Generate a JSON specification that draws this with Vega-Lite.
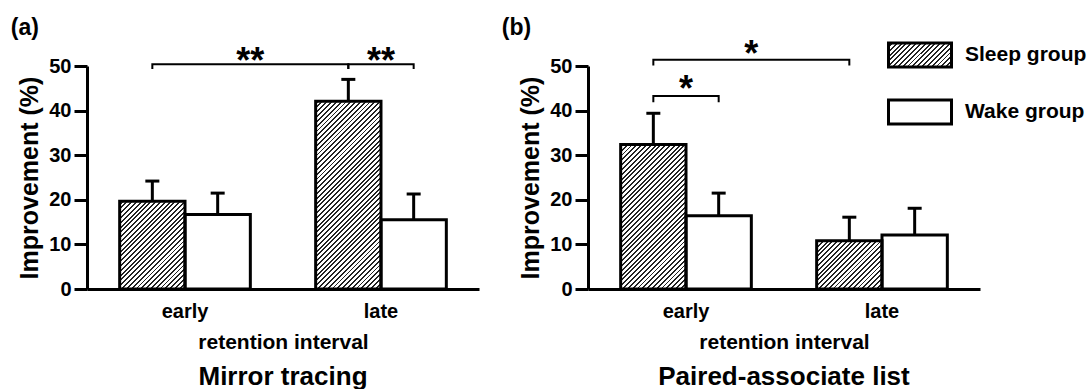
{
  "$schema": "https://vega.github.io/schema/vega-lite/v6.json",
  "background": "white",
  "padding": {"left": 10, "top": 17, "right": 0, "bottom": 0},
  "spacing": 22,
  "datasets": {
    "barsA": [
      {"interval": "early", "group": "Sleep group", "value": 19.7, "upper": 24.2},
      {"interval": "early", "group": "Wake group", "value": 16.7, "upper": 21.5},
      {"interval": "late", "group": "Sleep group", "value": 42.1, "upper": 47.0},
      {"interval": "late", "group": "Wake group", "value": 15.5, "upper": 21.3}
    ],
    "barsB": [
      {"interval": "early", "group": "Sleep group", "value": 32.4, "upper": 39.4},
      {"interval": "early", "group": "Wake group", "value": 16.4, "upper": 21.5},
      {"interval": "late", "group": "Sleep group", "value": 10.8, "upper": 16.1},
      {"interval": "late", "group": "Wake group", "value": 12.1, "upper": 18.1}
    ],
    "bracketsA": [
      {"b": 1, "o": 0, "interval": "early", "group": "Sleep group", "v": 49.3},
      {"b": 1, "o": 1, "interval": "early", "group": "Sleep group", "v": 50.4},
      {"b": 1, "o": 2, "interval": "late", "group": "Sleep group", "v": 50.4},
      {"b": 1, "o": 3, "interval": "late", "group": "Sleep group", "v": 49.3},
      {"b": 2, "o": 0, "interval": "late", "group": "Sleep group", "v": 49.3},
      {"b": 2, "o": 1, "interval": "late", "group": "Sleep group", "v": 50.4},
      {"b": 2, "o": 2, "interval": "late", "group": "Wake group", "v": 50.4},
      {"b": 2, "o": 3, "interval": "late", "group": "Wake group", "v": 49.3}
    ],
    "bracketsB": [
      {"b": 1, "o": 0, "interval": "early", "group": "Sleep group", "v": 50.1},
      {"b": 1, "o": 1, "interval": "early", "group": "Sleep group", "v": 51.4},
      {"b": 1, "o": 2, "interval": "late", "group": "Sleep group", "v": 51.4},
      {"b": 1, "o": 3, "interval": "late", "group": "Sleep group", "v": 50.1},
      {"b": 2, "o": 0, "interval": "early", "group": "Sleep group", "v": 41.9},
      {"b": 2, "o": 1, "interval": "early", "group": "Sleep group", "v": 43.3},
      {"b": 2, "o": 2, "interval": "early", "group": "Wake group", "v": 43.3},
      {"b": 2, "o": 3, "interval": "early", "group": "Wake group", "v": 41.9}
    ],
    "starsA": [
      {"interval": "early", "at": "end", "sy": 48.4, "label": "**"},
      {"interval": "late", "at": "mid", "sy": 48.4, "label": "**"}
    ],
    "starsB": [
      {"interval": "early", "at": "end", "sy": 49.9, "label": "*"},
      {"interval": "early", "at": "mid", "sy": 42.2, "label": "*"}
    ]
  },
  "hconcat": [
    {
      "title": {"text": "(a)", "anchor": "start", "frame": "bounds", "orient": "top", "fontSize": 23, "offset": 4, "dx": -7},
      "vconcat": [
        {
          "width": 392,
          "height": 223,
          "title": {"text": "Mirror tracing", "orient": "bottom", "frame": "group", "anchor": "middle", "fontSize": 26, "offset": 12},
          "layer": [
            {
              "data": {"name": "barsA"},
              "transform": [{"filter": "datum.group === 'Sleep group'"}],
              "mark": {"type": "bar", "strokeWidth": 0, "fill": {"gradient": "linear", "x1": 0, "y1": 0, "x2": 0.3489, "y2": 1.1908, "stops": [
{"offset":0,"color":"#fff"},{"offset":0.01,"color":"#fff"},{"offset":0.01,"color":"#222"},{"offset":0.0167,"color":"#222"},
{"offset":0.0167,"color":"#fff"},{"offset":0.0267,"color":"#fff"},{"offset":0.0267,"color":"#222"},{"offset":0.0333,"color":"#222"},
{"offset":0.0333,"color":"#fff"},{"offset":0.0433,"color":"#fff"},{"offset":0.0433,"color":"#222"},{"offset":0.05,"color":"#222"},
{"offset":0.05,"color":"#fff"},{"offset":0.06,"color":"#fff"},{"offset":0.06,"color":"#222"},{"offset":0.0667,"color":"#222"},
{"offset":0.0667,"color":"#fff"},{"offset":0.0767,"color":"#fff"},{"offset":0.0767,"color":"#222"},{"offset":0.0833,"color":"#222"},
{"offset":0.0833,"color":"#fff"},{"offset":0.0933,"color":"#fff"},{"offset":0.0933,"color":"#222"},{"offset":0.1,"color":"#222"},
{"offset":0.1,"color":"#fff"},{"offset":0.11,"color":"#fff"},{"offset":0.11,"color":"#222"},{"offset":0.1167,"color":"#222"},
{"offset":0.1167,"color":"#fff"},{"offset":0.1267,"color":"#fff"},{"offset":0.1267,"color":"#222"},{"offset":0.1333,"color":"#222"},
{"offset":0.1333,"color":"#fff"},{"offset":0.1433,"color":"#fff"},{"offset":0.1433,"color":"#222"},{"offset":0.15,"color":"#222"},
{"offset":0.15,"color":"#fff"},{"offset":0.16,"color":"#fff"},{"offset":0.16,"color":"#222"},{"offset":0.1667,"color":"#222"},
{"offset":0.1667,"color":"#fff"},{"offset":0.1767,"color":"#fff"},{"offset":0.1767,"color":"#222"},{"offset":0.1833,"color":"#222"},
{"offset":0.1833,"color":"#fff"},{"offset":0.1933,"color":"#fff"},{"offset":0.1933,"color":"#222"},{"offset":0.2,"color":"#222"},
{"offset":0.2,"color":"#fff"},{"offset":0.21,"color":"#fff"},{"offset":0.21,"color":"#222"},{"offset":0.2167,"color":"#222"},
{"offset":0.2167,"color":"#fff"},{"offset":0.2267,"color":"#fff"},{"offset":0.2267,"color":"#222"},{"offset":0.2333,"color":"#222"},
{"offset":0.2333,"color":"#fff"},{"offset":0.2433,"color":"#fff"},{"offset":0.2433,"color":"#222"},{"offset":0.25,"color":"#222"},
{"offset":0.25,"color":"#fff"},{"offset":0.26,"color":"#fff"},{"offset":0.26,"color":"#222"},{"offset":0.2667,"color":"#222"},
{"offset":0.2667,"color":"#fff"},{"offset":0.2767,"color":"#fff"},{"offset":0.2767,"color":"#222"},{"offset":0.2833,"color":"#222"},
{"offset":0.2833,"color":"#fff"},{"offset":0.2933,"color":"#fff"},{"offset":0.2933,"color":"#222"},{"offset":0.3,"color":"#222"},
{"offset":0.3,"color":"#fff"},{"offset":0.31,"color":"#fff"},{"offset":0.31,"color":"#222"},{"offset":0.3167,"color":"#222"},
{"offset":0.3167,"color":"#fff"},{"offset":0.3267,"color":"#fff"},{"offset":0.3267,"color":"#222"},{"offset":0.3333,"color":"#222"},
{"offset":0.3333,"color":"#fff"},{"offset":0.3433,"color":"#fff"},{"offset":0.3433,"color":"#222"},{"offset":0.35,"color":"#222"},
{"offset":0.35,"color":"#fff"},{"offset":0.36,"color":"#fff"},{"offset":0.36,"color":"#222"},{"offset":0.3667,"color":"#222"},
{"offset":0.3667,"color":"#fff"},{"offset":0.3767,"color":"#fff"},{"offset":0.3767,"color":"#222"},{"offset":0.3833,"color":"#222"},
{"offset":0.3833,"color":"#fff"},{"offset":0.3933,"color":"#fff"},{"offset":0.3933,"color":"#222"},{"offset":0.4,"color":"#222"},
{"offset":0.4,"color":"#fff"},{"offset":0.41,"color":"#fff"},{"offset":0.41,"color":"#222"},{"offset":0.4167,"color":"#222"},
{"offset":0.4167,"color":"#fff"},{"offset":0.4267,"color":"#fff"},{"offset":0.4267,"color":"#222"},{"offset":0.4333,"color":"#222"},
{"offset":0.4333,"color":"#fff"},{"offset":0.4433,"color":"#fff"},{"offset":0.4433,"color":"#222"},{"offset":0.45,"color":"#222"},
{"offset":0.45,"color":"#fff"},{"offset":0.46,"color":"#fff"},{"offset":0.46,"color":"#222"},{"offset":0.4667,"color":"#222"},
{"offset":0.4667,"color":"#fff"},{"offset":0.4767,"color":"#fff"},{"offset":0.4767,"color":"#222"},{"offset":0.4833,"color":"#222"},
{"offset":0.4833,"color":"#fff"},{"offset":0.4933,"color":"#fff"},{"offset":0.4933,"color":"#222"},{"offset":0.5,"color":"#222"},
{"offset":0.5,"color":"#fff"},{"offset":0.51,"color":"#fff"},{"offset":0.51,"color":"#222"},{"offset":0.5167,"color":"#222"},
{"offset":0.5167,"color":"#fff"},{"offset":0.5267,"color":"#fff"},{"offset":0.5267,"color":"#222"},{"offset":0.5333,"color":"#222"},
{"offset":0.5333,"color":"#fff"},{"offset":0.5433,"color":"#fff"},{"offset":0.5433,"color":"#222"},{"offset":0.55,"color":"#222"},
{"offset":0.55,"color":"#fff"},{"offset":0.56,"color":"#fff"},{"offset":0.56,"color":"#222"},{"offset":0.5667,"color":"#222"},
{"offset":0.5667,"color":"#fff"},{"offset":0.5767,"color":"#fff"},{"offset":0.5767,"color":"#222"},{"offset":0.5833,"color":"#222"},
{"offset":0.5833,"color":"#fff"},{"offset":0.5933,"color":"#fff"},{"offset":0.5933,"color":"#222"},{"offset":0.6,"color":"#222"},
{"offset":0.6,"color":"#fff"},{"offset":0.61,"color":"#fff"},{"offset":0.61,"color":"#222"},{"offset":0.6167,"color":"#222"},
{"offset":0.6167,"color":"#fff"},{"offset":0.6267,"color":"#fff"},{"offset":0.6267,"color":"#222"},{"offset":0.6333,"color":"#222"},
{"offset":0.6333,"color":"#fff"},{"offset":0.6433,"color":"#fff"},{"offset":0.6433,"color":"#222"},{"offset":0.65,"color":"#222"},
{"offset":0.65,"color":"#fff"},{"offset":0.66,"color":"#fff"},{"offset":0.66,"color":"#222"},{"offset":0.6667,"color":"#222"},
{"offset":0.6667,"color":"#fff"},{"offset":0.6767,"color":"#fff"},{"offset":0.6767,"color":"#222"},{"offset":0.6833,"color":"#222"},
{"offset":0.6833,"color":"#fff"},{"offset":0.6933,"color":"#fff"},{"offset":0.6933,"color":"#222"},{"offset":0.7,"color":"#222"},
{"offset":0.7,"color":"#fff"},{"offset":0.71,"color":"#fff"},{"offset":0.71,"color":"#222"},{"offset":0.7167,"color":"#222"},
{"offset":0.7167,"color":"#fff"},{"offset":0.7267,"color":"#fff"},{"offset":0.7267,"color":"#222"},{"offset":0.7333,"color":"#222"},
{"offset":0.7333,"color":"#fff"},{"offset":0.7433,"color":"#fff"},{"offset":0.7433,"color":"#222"},{"offset":0.75,"color":"#222"},
{"offset":0.75,"color":"#fff"},{"offset":0.76,"color":"#fff"},{"offset":0.76,"color":"#222"},{"offset":0.7667,"color":"#222"},
{"offset":0.7667,"color":"#fff"},{"offset":0.7767,"color":"#fff"},{"offset":0.7767,"color":"#222"},{"offset":0.7833,"color":"#222"},
{"offset":0.7833,"color":"#fff"},{"offset":0.7933,"color":"#fff"},{"offset":0.7933,"color":"#222"},{"offset":0.8,"color":"#222"},
{"offset":0.8,"color":"#fff"},{"offset":0.81,"color":"#fff"},{"offset":0.81,"color":"#222"},{"offset":0.8167,"color":"#222"},
{"offset":0.8167,"color":"#fff"},{"offset":0.8267,"color":"#fff"},{"offset":0.8267,"color":"#222"},{"offset":0.8333,"color":"#222"},
{"offset":0.8333,"color":"#fff"},{"offset":0.8433,"color":"#fff"},{"offset":0.8433,"color":"#222"},{"offset":0.85,"color":"#222"},
{"offset":0.85,"color":"#fff"},{"offset":0.86,"color":"#fff"},{"offset":0.86,"color":"#222"},{"offset":0.8667,"color":"#222"},
{"offset":0.8667,"color":"#fff"},{"offset":0.8767,"color":"#fff"},{"offset":0.8767,"color":"#222"},{"offset":0.8833,"color":"#222"},
{"offset":0.8833,"color":"#fff"},{"offset":0.8933,"color":"#fff"},{"offset":0.8933,"color":"#222"},{"offset":0.9,"color":"#222"},
{"offset":0.9,"color":"#fff"},{"offset":0.91,"color":"#fff"},{"offset":0.91,"color":"#222"},{"offset":0.9167,"color":"#222"},
{"offset":0.9167,"color":"#fff"},{"offset":0.9267,"color":"#fff"},{"offset":0.9267,"color":"#222"},{"offset":0.9333,"color":"#222"},
{"offset":0.9333,"color":"#fff"},{"offset":0.9433,"color":"#fff"},{"offset":0.9433,"color":"#222"},{"offset":0.95,"color":"#222"},
{"offset":0.95,"color":"#fff"},{"offset":0.96,"color":"#fff"},{"offset":0.96,"color":"#222"},{"offset":0.9667,"color":"#222"},
{"offset":0.9667,"color":"#fff"},{"offset":0.9767,"color":"#fff"},{"offset":0.9767,"color":"#222"},{"offset":0.9833,"color":"#222"},
{"offset":0.9833,"color":"#fff"},{"offset":0.9933,"color":"#fff"},{"offset":0.9933,"color":"#222"},{"offset":1,"color":"#222"}
              ]}},
              "encoding": {
                "x": {"field": "interval", "type": "nominal", "scale": {"domain": ["early", "late"], "paddingInner": 0.3333, "paddingOuter": 0.1667}, "axis": {"title": "retention interval", "labelAngle": 0}},
                "xOffset": {"field": "group", "type": "nominal", "scale": {"domain": ["Sleep group", "Wake group"], "paddingInner": 0, "paddingOuter": 0}},
                "y": {"datum": 50, "type": "quantitative", "scale": {"domain": [0, 50], "nice": false}, "axis": {"values": [0, 10, 20, 30, 40, 50], "title": "Improvement (%)"}},
                "y2": {"datum": 0}
              }
            },
            {
              "data": {"name": "barsA"},
              "transform": [{"filter": "datum.group === 'Sleep group'"}],
              "mark": {"type": "bar", "fill": "white", "stroke": "white", "strokeWidth": 2},
              "encoding": {
                "x": {"field": "interval", "type": "nominal"},
                "xOffset": {"field": "group", "type": "nominal"},
                "y": {"field": "value", "type": "quantitative"},
                "y2": {"datum": 50}
              }
            },
            {
              "data": {"name": "barsA"},
              "mark": {"type": "bar", "fill": "transparent", "stroke": "black", "strokeWidth": 3, "strokeJoin": "miter"},
              "encoding": {
                "x": {"field": "interval", "type": "nominal"},
                "xOffset": {"field": "group", "type": "nominal"},
                "y": {"field": "value", "type": "quantitative"}
              }
            },
            {
              "data": {"name": "barsA"},
              "mark": {"type": "rule", "strokeWidth": 3, "color": "black"},
              "encoding": {
                "x": {"field": "interval", "type": "nominal"},
                "xOffset": {"field": "group", "type": "nominal"},
                "y": {"field": "value", "type": "quantitative"},
                "y2": {"field": "upper"}
              }
            },
            {
              "data": {"name": "barsA"},
              "mark": {"type": "tick", "orient": "horizontal", "thickness": 3, "size": 14, "color": "black", "opacity": 1},
              "encoding": {
                "x": {"field": "interval", "type": "nominal"},
                "xOffset": {"field": "group", "type": "nominal"},
                "y": {"field": "upper", "type": "quantitative"}
              }
            },
            {
              "data": {"name": "bracketsA"},
              "mark": {"type": "line", "strokeWidth": 2, "color": "black", "strokeJoin": "miter"},
              "encoding": {
                "x": {"field": "interval", "type": "nominal"},
                "xOffset": {"field": "group", "type": "nominal"},
                "y": {"field": "v", "type": "quantitative"},
                "detail": {"field": "b", "type": "nominal"},
                "order": {"field": "o", "type": "quantitative"}
              }
            },
            {
              "data": {"name": "starsA"},
              "transform": [{"filter": "datum.at === 'end'"}],
              "mark": {"type": "text", "fontSize": 36, "fontWeight": "bold", "baseline": "alphabetic", "align": "center", "color": "black"},
              "encoding": {
                "x": {"field": "interval", "type": "nominal", "bandPosition": 1},
                "y": {"field": "sy", "type": "quantitative"},
                "text": {"field": "label"}
              }
            },
            {
              "data": {"name": "starsA"},
              "transform": [{"filter": "datum.at === 'mid'"}],
              "mark": {"type": "text", "fontSize": 36, "fontWeight": "bold", "baseline": "alphabetic", "align": "center", "color": "black"},
              "encoding": {
                "x": {"field": "interval", "type": "nominal", "bandPosition": 0.5},
                "y": {"field": "sy", "type": "quantitative"},
                "text": {"field": "label"}
              }
            }
          ]
        }
      ]
    },
    {
      "title": {"text": "(b)", "anchor": "start", "frame": "bounds", "orient": "top", "fontSize": 23, "offset": 4, "dx": -17, "dy": 7},
      "vconcat": [
        {
          "width": 392,
          "height": 223,
          "title": {"text": "Paired-associate list", "orient": "bottom", "frame": "group", "anchor": "middle", "fontSize": 26, "offset": 12},
          "layer": [
            {
              "data": {"name": "barsB"},
              "transform": [{"filter": "datum.group === 'Sleep group'"}],
              "mark": {"type": "bar", "strokeWidth": 0, "fill": {"gradient": "linear", "x1": 0, "y1": 0, "x2": 0.3489, "y2": 1.1908, "stops": [
{"offset":0,"color":"#fff"},{"offset":0.01,"color":"#fff"},{"offset":0.01,"color":"#222"},{"offset":0.0167,"color":"#222"},
{"offset":0.0167,"color":"#fff"},{"offset":0.0267,"color":"#fff"},{"offset":0.0267,"color":"#222"},{"offset":0.0333,"color":"#222"},
{"offset":0.0333,"color":"#fff"},{"offset":0.0433,"color":"#fff"},{"offset":0.0433,"color":"#222"},{"offset":0.05,"color":"#222"},
{"offset":0.05,"color":"#fff"},{"offset":0.06,"color":"#fff"},{"offset":0.06,"color":"#222"},{"offset":0.0667,"color":"#222"},
{"offset":0.0667,"color":"#fff"},{"offset":0.0767,"color":"#fff"},{"offset":0.0767,"color":"#222"},{"offset":0.0833,"color":"#222"},
{"offset":0.0833,"color":"#fff"},{"offset":0.0933,"color":"#fff"},{"offset":0.0933,"color":"#222"},{"offset":0.1,"color":"#222"},
{"offset":0.1,"color":"#fff"},{"offset":0.11,"color":"#fff"},{"offset":0.11,"color":"#222"},{"offset":0.1167,"color":"#222"},
{"offset":0.1167,"color":"#fff"},{"offset":0.1267,"color":"#fff"},{"offset":0.1267,"color":"#222"},{"offset":0.1333,"color":"#222"},
{"offset":0.1333,"color":"#fff"},{"offset":0.1433,"color":"#fff"},{"offset":0.1433,"color":"#222"},{"offset":0.15,"color":"#222"},
{"offset":0.15,"color":"#fff"},{"offset":0.16,"color":"#fff"},{"offset":0.16,"color":"#222"},{"offset":0.1667,"color":"#222"},
{"offset":0.1667,"color":"#fff"},{"offset":0.1767,"color":"#fff"},{"offset":0.1767,"color":"#222"},{"offset":0.1833,"color":"#222"},
{"offset":0.1833,"color":"#fff"},{"offset":0.1933,"color":"#fff"},{"offset":0.1933,"color":"#222"},{"offset":0.2,"color":"#222"},
{"offset":0.2,"color":"#fff"},{"offset":0.21,"color":"#fff"},{"offset":0.21,"color":"#222"},{"offset":0.2167,"color":"#222"},
{"offset":0.2167,"color":"#fff"},{"offset":0.2267,"color":"#fff"},{"offset":0.2267,"color":"#222"},{"offset":0.2333,"color":"#222"},
{"offset":0.2333,"color":"#fff"},{"offset":0.2433,"color":"#fff"},{"offset":0.2433,"color":"#222"},{"offset":0.25,"color":"#222"},
{"offset":0.25,"color":"#fff"},{"offset":0.26,"color":"#fff"},{"offset":0.26,"color":"#222"},{"offset":0.2667,"color":"#222"},
{"offset":0.2667,"color":"#fff"},{"offset":0.2767,"color":"#fff"},{"offset":0.2767,"color":"#222"},{"offset":0.2833,"color":"#222"},
{"offset":0.2833,"color":"#fff"},{"offset":0.2933,"color":"#fff"},{"offset":0.2933,"color":"#222"},{"offset":0.3,"color":"#222"},
{"offset":0.3,"color":"#fff"},{"offset":0.31,"color":"#fff"},{"offset":0.31,"color":"#222"},{"offset":0.3167,"color":"#222"},
{"offset":0.3167,"color":"#fff"},{"offset":0.3267,"color":"#fff"},{"offset":0.3267,"color":"#222"},{"offset":0.3333,"color":"#222"},
{"offset":0.3333,"color":"#fff"},{"offset":0.3433,"color":"#fff"},{"offset":0.3433,"color":"#222"},{"offset":0.35,"color":"#222"},
{"offset":0.35,"color":"#fff"},{"offset":0.36,"color":"#fff"},{"offset":0.36,"color":"#222"},{"offset":0.3667,"color":"#222"},
{"offset":0.3667,"color":"#fff"},{"offset":0.3767,"color":"#fff"},{"offset":0.3767,"color":"#222"},{"offset":0.3833,"color":"#222"},
{"offset":0.3833,"color":"#fff"},{"offset":0.3933,"color":"#fff"},{"offset":0.3933,"color":"#222"},{"offset":0.4,"color":"#222"},
{"offset":0.4,"color":"#fff"},{"offset":0.41,"color":"#fff"},{"offset":0.41,"color":"#222"},{"offset":0.4167,"color":"#222"},
{"offset":0.4167,"color":"#fff"},{"offset":0.4267,"color":"#fff"},{"offset":0.4267,"color":"#222"},{"offset":0.4333,"color":"#222"},
{"offset":0.4333,"color":"#fff"},{"offset":0.4433,"color":"#fff"},{"offset":0.4433,"color":"#222"},{"offset":0.45,"color":"#222"},
{"offset":0.45,"color":"#fff"},{"offset":0.46,"color":"#fff"},{"offset":0.46,"color":"#222"},{"offset":0.4667,"color":"#222"},
{"offset":0.4667,"color":"#fff"},{"offset":0.4767,"color":"#fff"},{"offset":0.4767,"color":"#222"},{"offset":0.4833,"color":"#222"},
{"offset":0.4833,"color":"#fff"},{"offset":0.4933,"color":"#fff"},{"offset":0.4933,"color":"#222"},{"offset":0.5,"color":"#222"},
{"offset":0.5,"color":"#fff"},{"offset":0.51,"color":"#fff"},{"offset":0.51,"color":"#222"},{"offset":0.5167,"color":"#222"},
{"offset":0.5167,"color":"#fff"},{"offset":0.5267,"color":"#fff"},{"offset":0.5267,"color":"#222"},{"offset":0.5333,"color":"#222"},
{"offset":0.5333,"color":"#fff"},{"offset":0.5433,"color":"#fff"},{"offset":0.5433,"color":"#222"},{"offset":0.55,"color":"#222"},
{"offset":0.55,"color":"#fff"},{"offset":0.56,"color":"#fff"},{"offset":0.56,"color":"#222"},{"offset":0.5667,"color":"#222"},
{"offset":0.5667,"color":"#fff"},{"offset":0.5767,"color":"#fff"},{"offset":0.5767,"color":"#222"},{"offset":0.5833,"color":"#222"},
{"offset":0.5833,"color":"#fff"},{"offset":0.5933,"color":"#fff"},{"offset":0.5933,"color":"#222"},{"offset":0.6,"color":"#222"},
{"offset":0.6,"color":"#fff"},{"offset":0.61,"color":"#fff"},{"offset":0.61,"color":"#222"},{"offset":0.6167,"color":"#222"},
{"offset":0.6167,"color":"#fff"},{"offset":0.6267,"color":"#fff"},{"offset":0.6267,"color":"#222"},{"offset":0.6333,"color":"#222"},
{"offset":0.6333,"color":"#fff"},{"offset":0.6433,"color":"#fff"},{"offset":0.6433,"color":"#222"},{"offset":0.65,"color":"#222"},
{"offset":0.65,"color":"#fff"},{"offset":0.66,"color":"#fff"},{"offset":0.66,"color":"#222"},{"offset":0.6667,"color":"#222"},
{"offset":0.6667,"color":"#fff"},{"offset":0.6767,"color":"#fff"},{"offset":0.6767,"color":"#222"},{"offset":0.6833,"color":"#222"},
{"offset":0.6833,"color":"#fff"},{"offset":0.6933,"color":"#fff"},{"offset":0.6933,"color":"#222"},{"offset":0.7,"color":"#222"},
{"offset":0.7,"color":"#fff"},{"offset":0.71,"color":"#fff"},{"offset":0.71,"color":"#222"},{"offset":0.7167,"color":"#222"},
{"offset":0.7167,"color":"#fff"},{"offset":0.7267,"color":"#fff"},{"offset":0.7267,"color":"#222"},{"offset":0.7333,"color":"#222"},
{"offset":0.7333,"color":"#fff"},{"offset":0.7433,"color":"#fff"},{"offset":0.7433,"color":"#222"},{"offset":0.75,"color":"#222"},
{"offset":0.75,"color":"#fff"},{"offset":0.76,"color":"#fff"},{"offset":0.76,"color":"#222"},{"offset":0.7667,"color":"#222"},
{"offset":0.7667,"color":"#fff"},{"offset":0.7767,"color":"#fff"},{"offset":0.7767,"color":"#222"},{"offset":0.7833,"color":"#222"},
{"offset":0.7833,"color":"#fff"},{"offset":0.7933,"color":"#fff"},{"offset":0.7933,"color":"#222"},{"offset":0.8,"color":"#222"},
{"offset":0.8,"color":"#fff"},{"offset":0.81,"color":"#fff"},{"offset":0.81,"color":"#222"},{"offset":0.8167,"color":"#222"},
{"offset":0.8167,"color":"#fff"},{"offset":0.8267,"color":"#fff"},{"offset":0.8267,"color":"#222"},{"offset":0.8333,"color":"#222"},
{"offset":0.8333,"color":"#fff"},{"offset":0.8433,"color":"#fff"},{"offset":0.8433,"color":"#222"},{"offset":0.85,"color":"#222"},
{"offset":0.85,"color":"#fff"},{"offset":0.86,"color":"#fff"},{"offset":0.86,"color":"#222"},{"offset":0.8667,"color":"#222"},
{"offset":0.8667,"color":"#fff"},{"offset":0.8767,"color":"#fff"},{"offset":0.8767,"color":"#222"},{"offset":0.8833,"color":"#222"},
{"offset":0.8833,"color":"#fff"},{"offset":0.8933,"color":"#fff"},{"offset":0.8933,"color":"#222"},{"offset":0.9,"color":"#222"},
{"offset":0.9,"color":"#fff"},{"offset":0.91,"color":"#fff"},{"offset":0.91,"color":"#222"},{"offset":0.9167,"color":"#222"},
{"offset":0.9167,"color":"#fff"},{"offset":0.9267,"color":"#fff"},{"offset":0.9267,"color":"#222"},{"offset":0.9333,"color":"#222"},
{"offset":0.9333,"color":"#fff"},{"offset":0.9433,"color":"#fff"},{"offset":0.9433,"color":"#222"},{"offset":0.95,"color":"#222"},
{"offset":0.95,"color":"#fff"},{"offset":0.96,"color":"#fff"},{"offset":0.96,"color":"#222"},{"offset":0.9667,"color":"#222"},
{"offset":0.9667,"color":"#fff"},{"offset":0.9767,"color":"#fff"},{"offset":0.9767,"color":"#222"},{"offset":0.9833,"color":"#222"},
{"offset":0.9833,"color":"#fff"},{"offset":0.9933,"color":"#fff"},{"offset":0.9933,"color":"#222"},{"offset":1,"color":"#222"}
              ]}},
              "encoding": {
                "x": {"field": "interval", "type": "nominal", "scale": {"domain": ["early", "late"], "paddingInner": 0.3333, "paddingOuter": 0.1667}, "axis": {"title": "retention interval", "labelAngle": 0}},
                "xOffset": {"field": "group", "type": "nominal", "scale": {"domain": ["Sleep group", "Wake group"], "paddingInner": 0, "paddingOuter": 0}},
                "y": {"datum": 50, "type": "quantitative", "scale": {"domain": [0, 50], "nice": false}, "axis": {"values": [0, 10, 20, 30, 40, 50], "title": "Improvement (%)"}},
                "y2": {"datum": 0}
              }
            },
            {
              "data": {"name": "barsB"},
              "transform": [{"filter": "datum.group === 'Sleep group'"}],
              "mark": {"type": "bar", "fill": "white", "stroke": "white", "strokeWidth": 2},
              "encoding": {
                "x": {"field": "interval", "type": "nominal"},
                "xOffset": {"field": "group", "type": "nominal"},
                "y": {"field": "value", "type": "quantitative"},
                "y2": {"datum": 50}
              }
            },
            {
              "data": {"name": "barsB"},
              "mark": {"type": "bar", "strokeWidth": 0, "opacity": 1},
              "encoding": {
                "x": {"field": "interval", "type": "nominal"},
                "xOffset": {"field": "group", "type": "nominal"},
                "y": {"field": "value", "type": "quantitative"},
                "y2": {"field": "value"},
                "fill": {
                  "field": "group", "type": "nominal",
                  "scale": {"domain": ["Sleep group", "Wake group"], "range": [{"expr": "{gradient: 'linear', x1: 0, y1: 0, x2: 1.2059, y2: 0.4594, stops: [{offset: 0, color: '#fff'}, {offset: 0.0333, color: '#fff'}, {offset: 0.0333, color: '#222'}, {offset: 0.0556, color: '#222'}, {offset: 0.0556, color: '#fff'}, {offset: 0.0889, color: '#fff'}, {offset: 0.0889, color: '#222'}, {offset: 0.1111, color: '#222'}, {offset: 0.1111, color: '#fff'}, {offset: 0.1444, color: '#fff'}, {offset: 0.1444, color: '#222'}, {offset: 0.1667, color: '#222'}, {offset: 0.1667, color: '#fff'}, {offset: 0.2, color: '#fff'}, {offset: 0.2, color: '#222'}, {offset: 0.2222, color: '#222'}, {offset: 0.2222, color: '#fff'}, {offset: 0.2556, color: '#fff'}, {offset: 0.2556, color: '#222'}, {offset: 0.2778, color: '#222'}, {offset: 0.2778, color: '#fff'}, {offset: 0.3111, color: '#fff'}, {offset: 0.3111, color: '#222'}, {offset: 0.3333, color: '#222'}, {offset: 0.3333, color: '#fff'}, {offset: 0.3667, color: '#fff'}, {offset: 0.3667, color: '#222'}, {offset: 0.3889, color: '#222'}, {offset: 0.3889, color: '#fff'}, {offset: 0.4222, color: '#fff'}, {offset: 0.4222, color: '#222'}, {offset: 0.4444, color: '#222'}, {offset: 0.4444, color: '#fff'}, {offset: 0.4778, color: '#fff'}, {offset: 0.4778, color: '#222'}, {offset: 0.5, color: '#222'}, {offset: 0.5, color: '#fff'}, {offset: 0.5333, color: '#fff'}, {offset: 0.5333, color: '#222'}, {offset: 0.5556, color: '#222'}, {offset: 0.5556, color: '#fff'}, {offset: 0.5889, color: '#fff'}, {offset: 0.5889, color: '#222'}, {offset: 0.6111, color: '#222'}, {offset: 0.6111, color: '#fff'}, {offset: 0.6444, color: '#fff'}, {offset: 0.6444, color: '#222'}, {offset: 0.6667, color: '#222'}, {offset: 0.6667, color: '#fff'}, {offset: 0.7, color: '#fff'}, {offset: 0.7, color: '#222'}, {offset: 0.7222, color: '#222'}, {offset: 0.7222, color: '#fff'}, {offset: 0.7556, color: '#fff'}, {offset: 0.7556, color: '#222'}, {offset: 0.7778, color: '#222'}, {offset: 0.7778, color: '#fff'}, {offset: 0.8111, color: '#fff'}, {offset: 0.8111, color: '#222'}, {offset: 0.8333, color: '#222'}, {offset: 0.8333, color: '#fff'}, {offset: 0.8667, color: '#fff'}, {offset: 0.8667, color: '#222'}, {offset: 0.8889, color: '#222'}, {offset: 0.8889, color: '#fff'}, {offset: 0.9222, color: '#fff'}, {offset: 0.9222, color: '#222'}, {offset: 0.9444, color: '#222'}, {offset: 0.9444, color: '#fff'}, {offset: 0.9778, color: '#fff'}, {offset: 0.9778, color: '#222'}, {offset: 1, color: '#222'}]}"}, "white"]},
                  "legend": {
                    "title": null, "orient": "none", "legendX": 800, "legendY": -44, "padding": 0,
                    "symbolType": "M-1,-0.38H1V0.38H-1Z", "symbolSize": 3969,
                    "symbolStrokeColor": "black", "symbolStrokeWidth": 3, "symbolOpacity": 1,
                    "labelFont": "Liberation Sans", "labelFontSize": 21, "labelFontWeight": "bold", "labelColor": "black",
                    "labelOffset": 12, "rowPadding": 6
                  }
                }
              }
            },
            {
              "data": {"name": "barsB"},
              "mark": {"type": "bar", "fill": "transparent", "stroke": "black", "strokeWidth": 3, "strokeJoin": "miter"},
              "encoding": {
                "x": {"field": "interval", "type": "nominal"},
                "xOffset": {"field": "group", "type": "nominal"},
                "y": {"field": "value", "type": "quantitative"}
              }
            },
            {
              "data": {"name": "barsB"},
              "mark": {"type": "rule", "strokeWidth": 3, "color": "black"},
              "encoding": {
                "x": {"field": "interval", "type": "nominal"},
                "xOffset": {"field": "group", "type": "nominal"},
                "y": {"field": "value", "type": "quantitative"},
                "y2": {"field": "upper"}
              }
            },
            {
              "data": {"name": "barsB"},
              "mark": {"type": "tick", "orient": "horizontal", "thickness": 3, "size": 14, "color": "black", "opacity": 1},
              "encoding": {
                "x": {"field": "interval", "type": "nominal"},
                "xOffset": {"field": "group", "type": "nominal"},
                "y": {"field": "upper", "type": "quantitative"}
              }
            },
            {
              "data": {"name": "bracketsB"},
              "mark": {"type": "line", "strokeWidth": 2, "color": "black", "strokeJoin": "miter"},
              "encoding": {
                "x": {"field": "interval", "type": "nominal"},
                "xOffset": {"field": "group", "type": "nominal"},
                "y": {"field": "v", "type": "quantitative"},
                "detail": {"field": "b", "type": "nominal"},
                "order": {"field": "o", "type": "quantitative"}
              }
            },
            {
              "data": {"name": "starsB"},
              "transform": [{"filter": "datum.at === 'end'"}],
              "mark": {"type": "text", "fontSize": 36, "fontWeight": "bold", "baseline": "alphabetic", "align": "center", "color": "black"},
              "encoding": {
                "x": {"field": "interval", "type": "nominal", "bandPosition": 1},
                "y": {"field": "sy", "type": "quantitative"},
                "text": {"field": "label"}
              }
            },
            {
              "data": {"name": "starsB"},
              "transform": [{"filter": "datum.at === 'mid'"}],
              "mark": {"type": "text", "fontSize": 36, "fontWeight": "bold", "baseline": "alphabetic", "align": "center", "color": "black"},
              "encoding": {
                "x": {"field": "interval", "type": "nominal", "bandPosition": 0.5},
                "y": {"field": "sy", "type": "quantitative"},
                "text": {"field": "label"}
              }
            }
          ]
        }
      ]
    }
  ],
  "config": {
    "font": "Liberation Sans",
    "view": {"stroke": null},
    "axis": {"domainColor": "black", "domainWidth": 3, "tickColor": "black", "tickWidth": 3, "labelColor": "black", "labelFontWeight": "bold", "titleColor": "black", "titleFontWeight": "bold", "grid": false},
    "axisY": {"tickSize": 13, "labelFontSize": 20, "labelPadding": 3, "titleFontSize": 25, "titlePadding": 6},
    "axisX": {"ticks": false, "tickSize": 0, "labelFontSize": 20, "labelPadding": 12, "titleFontSize": 21, "titlePadding": 10, "labelAngle": 0},
    "legend": {"labelFontWeight": "bold"},
    "title": {"color": "black", "fontWeight": "bold", "font": "Liberation Sans"}
  }
}
